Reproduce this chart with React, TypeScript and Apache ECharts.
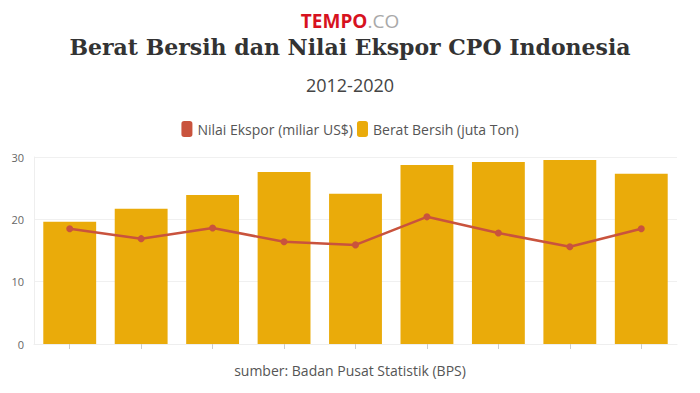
import React, { useEffect, useRef } from "react";
import * as echarts from "echarts";

const years = ["2012", "2013", "2014", "2015", "2016", "2017", "2018", "2019", "2020"];
const beratBersih = [19.6, 21.7, 23.9, 27.6, 24.1, 28.7, 29.2, 29.5, 27.3];
const nilaiEkspor = [18.5, 16.9, 18.6, 16.4, 15.9, 20.4, 17.8, 15.6, 18.5];
const yTicks = [0, 10, 20, 30];

export default function App() {
  const ref = useRef<HTMLDivElement>(null);
  useEffect(() => {
    if (!ref.current) return;
    const chart = echarts.init(ref.current, undefined, { renderer: "svg" });
    const sans = "'Open Sans', 'Noto Sans', sans-serif";
    chart.setOption({
      animation: false,
      backgroundColor: "#fff",
      graphic: [
        {
          type: "text",
          left: "center",
          top: 11,
          style: {
            rich: {
              a: { fontFamily: sans, fontSize: 19, fontWeight: "bold", fill: "#d7121f" },
              b: { fontFamily: sans, fontSize: 19, fill: "#a9a9a9" },
            },
            text: "{a|TEMPO}{b|.CO}",
          },
        },
        {
          type: "text",
          left: "center",
          top: 36,
          style: {
            text: "Berat Bersih dan Nilai Ekspor CPO Indonesia",
            fontFamily: "'DejaVu Serif', serif",
            fontWeight: "bold",
            fontSize: 22,
            fill: "#333",
          },
        },
        {
          type: "text",
          left: "center",
          top: 76,
          style: { text: "2012-2020", fontFamily: sans, fontSize: 18, fill: "#444" },
        },
        {
          type: "text",
          left: "center",
          top: 363,
          style: { text: "sumber: Badan Pusat Statistik (BPS)", fontFamily: sans, fontSize: 14, fill: "#555" },
        },
      ],
      legend: {
        top: 116,
        left: "center",
        itemWidth: 11,
        itemHeight: 16,
        itemGap: 4,
        icon: "roundRect",
        textStyle: { fontFamily: sans, fontSize: 14, color: "#555" },
        data: [
          { name: "Nilai Ekspor (miliar US$)", itemStyle: { color: "#c9533d" } },
          { name: "Berat Bersih (juta Ton)", itemStyle: { color: "#eaab0a" } },
        ],
      },
      grid: { left: 34, right: 23, top: 157, bottom: 49 },
      xAxis: {
        type: "category",
        data: years,
        axisLine: { show: true, lineStyle: { color: "#eeeeee" } },
        axisTick: { show: true, alignWithLabel: true, length: 5, lineStyle: { color: "#cccccc" } },
        axisLabel: { show: false },
      },
      yAxis: {
        type: "value",
        min: 0,
        max: 30,
        interval: 10,
        axisLine: { show: true, lineStyle: { color: "#eeeeee" } },
        splitLine: { lineStyle: { color: "#f0f0f0" } },
        axisLabel: {
          fontFamily: sans,
          fontSize: 11,
          color: "#666",
          margin: 10,
          formatter: (v: number) => (yTicks.includes(v) ? String(v) : ""),
        },
      },
      series: [
        {
          name: "Berat Bersih (juta Ton)",
          type: "bar",
          data: beratBersih,
          barCategoryGap: "26%",
          itemStyle: { color: "#eaab0a" },
          z: 1,
        },
        {
          name: "Nilai Ekspor (miliar US$)",
          type: "line",
          data: nilaiEkspor,
          symbol: "circle",
          symbolSize: 7,
          lineStyle: { color: "#c9533d", width: 2.5 },
          itemStyle: { color: "#c9533d" },
          z: 3,
        },
      ],
    });
    return () => chart.dispose();
  }, []);
  return <div ref={ref} style={{ width: 700, height: 393, position: "absolute", left: 0, top: 0 }} />;
}
